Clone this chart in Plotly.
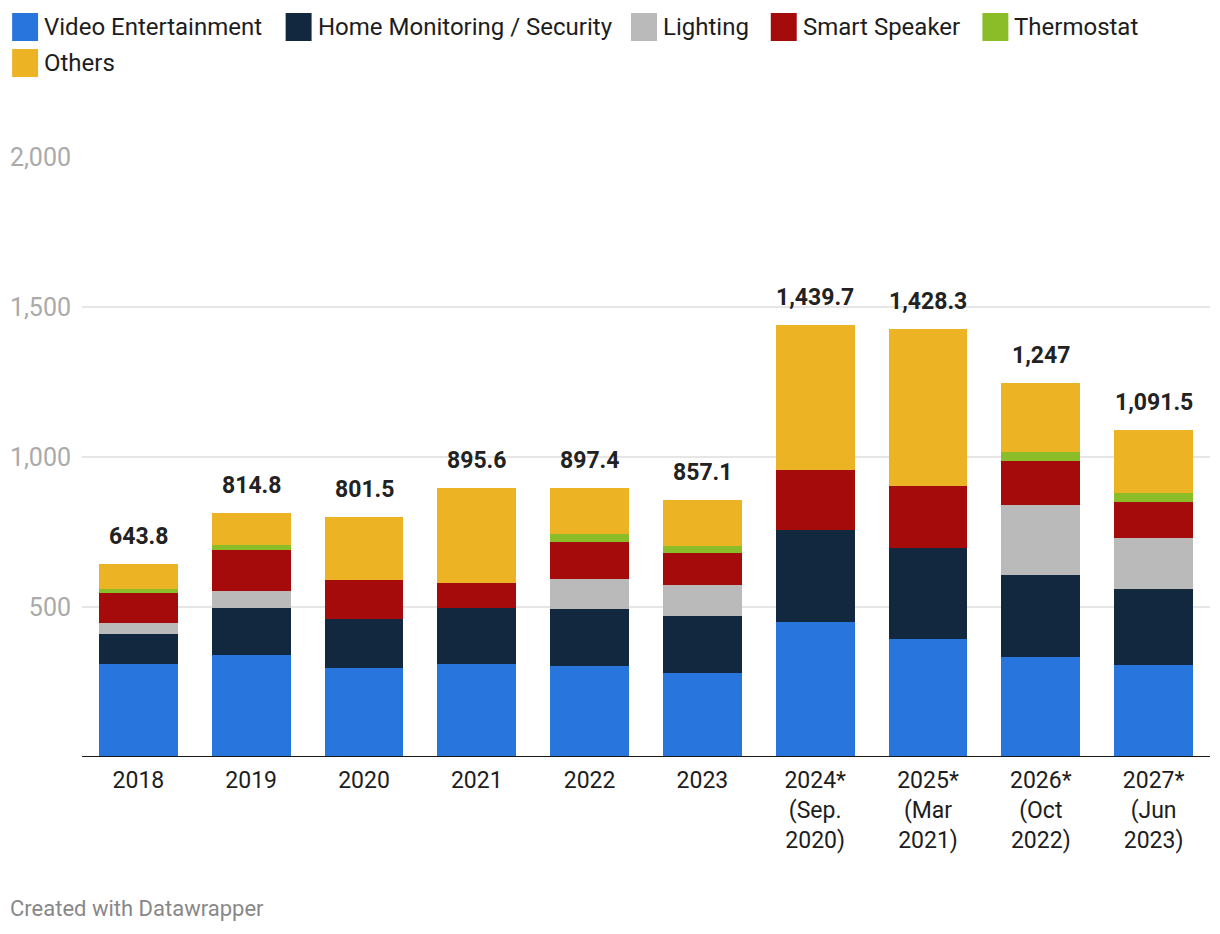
import plotly.graph_objects as go

categories = ["2018", "2019", "2020", "2021", "2022", "2023",
              "2024*<br>(Sep.<br>2020)", "2025*<br>(Mar<br>2021)",
              "2026*<br>(Oct<br>2022)", "2027*<br>(Jun<br>2023)"]
totals = [643.8, 814.8, 801.5, 895.6, 897.4, 857.1, 1439.7, 1428.3, 1247, 1091.5]
total_labels = ["643.8", "814.8", "801.5", "895.6", "897.4", "857.1",
                "1,439.7", "1,428.3", "1,247", "1,091.5"]

video = [308.9, 338.9, 295.5, 308.9, 302.2, 278.9, 448.9, 392.2, 332.2, 305.5]
home = [100.0, 156.6, 163.4, 187.8, 190.0, 190.0, 306.6, 304.5, 273.3, 253.4]
lighting = [36.7, 56.7, 0, 0, 100.0, 103.3, 0, 0, 233.4, 170.0]
speaker = [100.0, 136.7, 130.0, 82.2, 123.3, 106.7, 200.0, 205.5, 146.6, 120.0]
thermostat = [13.3, 16.6, 0, 0, 26.7, 23.3, 0, 0, 30.0, 30.0]
others = [84.9, 109.3, 212.6, 316.7, 155.2, 154.9, 484.2, 526.1, 231.5, 212.6]

series_names = ["Video Entertainment", "Home Monitoring / Security", "Lighting",
                "Smart Speaker", "Thermostat", "Others"]
series_values = [video, home, lighting, speaker, thermostat, others]
colors = ["#2876dd", "#12283f", "#bababa", "#a50b0b", "#8abd27", "#ecb424"]

OFF = 8  # page body margin
W, H = 1220 - 2 * OFF, 934 - 2 * OFF
L, R, T, B = 80 - OFF, 2, 157 - OFF, H - (757 - OFF)
PW, PH = W - L - R, H - T - B


def px(x):
    return (x - OFF - L) / PW


def py(y):
    return (H - B - (y - OFF)) / PH


fig = go.Figure()
for name, vals, col in zip(series_names, series_values, colors):
    fig.add_trace(go.Bar(x=categories, y=vals, name=name, marker_color=col,
                         marker_line_width=0, showlegend=False))

annotations = []
for i, (t, lab) in enumerate(zip(totals, total_labels)):
    annotations.append(dict(x=i, y=t, xref="x", yref="y", text="<b>" + lab + "</b>",
                            showarrow=False, yanchor="bottom", yshift=12,
                            font=dict(family="Roboto", size=23, color="#222222")))

shapes = [dict(type="line", xref="paper", yref="y", x0=0, x1=1, y0=0, y1=0,
               line=dict(color="#1a1a1a", width=2))]

# custom legend
legend_pos = [(10, 27), (284, 27), (630, 27), (770, 27), (982, 27), (10, 63)]
for (lx, ly), name, col in zip(legend_pos, series_names, colors):
    shapes.append(dict(type="rect", xref="paper", yref="paper",
                       x0=px(lx), x1=px(lx + 26), y0=py(ly - 14), y1=py(ly + 14),
                       fillcolor=col, line=dict(width=0)))
    annotations.append(dict(xref="paper", yref="paper", x=px(lx + 30), y=py(ly),
                            text=name, showarrow=False, xanchor="left", yanchor="middle",
                            font=dict(family="Roboto", size=24, color="#1d1d1d")))

annotations.append(dict(xref="paper", yref="paper", x=px(6), y=py(908),
                        text="Created with Datawrapper", showarrow=False,
                        xanchor="left", yanchor="middle",
                        font=dict(family="Roboto", size=22, color="#888888")))

fig.update_layout(
    barmode="stack",
    bargap=0.30,
    width=W, height=H,
    margin=dict(l=L, r=R, t=T, b=B),
    paper_bgcolor="white", plot_bgcolor="white",
    font=dict(family="Roboto", size=23, color="#1d1d1d"),
    annotations=annotations,
    shapes=shapes,
    xaxis=dict(type="category", range=[-0.5, len(categories) - 0.5],
               showgrid=False, showline=False, ticks="",
               tickfont=dict(size=23, color="#1d1d1d"), ticklabelstandoff=7),
    yaxis=dict(range=[0, 2000], tickvals=[500, 1000, 1500, 2000],
               ticktext=["500", "1,000", "1,500", "2,000"],
               showgrid=True, gridcolor="#e6e6e6", gridwidth=2, zeroline=False,
               showline=False, ticks="", tickfont=dict(size=25, color="#aaaaaa"),
               ticklabelstandoff=10),
)

fig.write_html("out.html")
